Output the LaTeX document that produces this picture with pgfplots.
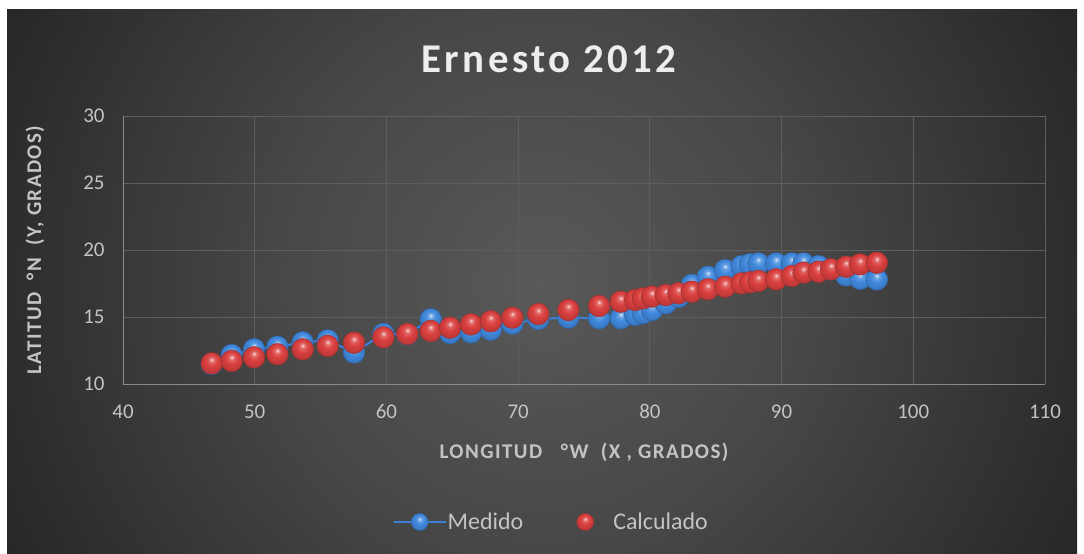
\documentclass[border=0pt]{standalone}
\usepackage{pgfplots}
\pgfplotsset{compat=1.18}
\usepackage{fontspec}
\setmainfont{Carlito}
\newfontfamily\titlefont[LetterSpace=8.5]{Carlito}
\newfontfamily\labfont[LetterSpace=7]{Carlito}
\definecolor{gridc}{HTML}{5E5E5E}
\definecolor{axc}{HTML}{8A8A8A}
\definecolor{txt}{HTML}{C4C4C4}
\definecolor{bluem}{HTML}{3A80D8}
\definecolor{bluel}{HTML}{4189DD}
\definecolor{redm}{HTML}{D9403F}
\definecolor{bg0}{HTML}{595959}
\definecolor{bg1}{HTML}{474747}
\definecolor{bg2}{HTML}{2D2D2D}
\definecolor{bg3}{HTML}{262626}
\pgfdeclareradialshading{bgshade}{\pgfpoint{0bp}{0bp}}{%
  color(0bp)=(bg0);
  color(11bp)=(bg1);
  color(22bp)=(bg2);
  color(25bp)=(bg3);
  color(50bp)=(bg3)}
\makeatletter
\pgfdeclareradialshading[tikz@ball]{ball}{\pgfqpoint{0bp}{9bp}}{%
  color(0bp)=(tikz@ball!20!white);
  color(6bp)=(tikz@ball!80!white);
  color(14bp)=(tikz@ball);
  color(26bp)=(tikz@ball!88!black);
  color(34bp)=(tikz@ball!70!black);
  color(50bp)=(tikz@ball!70!black)}
\makeatother
\pgfplotstableread{
x y
46.73 11.50
48.25 12.16
49.95 12.59
51.72 12.78
53.64 13.11
55.54 13.26
57.54 12.35
59.77 13.73
61.59 13.70
63.36 14.83
64.83 13.80
66.42 13.85
67.92 14.05
69.56 14.50
71.53 14.85
73.81 14.95
76.14 14.90
77.79 14.90
78.88 15.15
79.46 15.28
80.15 15.52
81.21 16.02
82.17 16.50
83.18 17.40
84.40 18.00
85.71 18.50
86.97 18.80
87.60 18.93
88.24 19.00
89.59 19.00
90.78 19.00
91.66 19.00
92.80 18.80
93.76 18.55
94.90 18.10
95.96 17.85
97.23 17.80
}\medido
\pgfplotstableread{
x y
46.73 11.54
48.25 11.72
49.95 11.99
51.72 12.22
53.64 12.59
55.54 12.84
57.54 13.08
59.77 13.48
61.59 13.73
63.36 13.96
64.83 14.20
66.42 14.45
67.92 14.68
69.56 14.95
71.53 15.22
73.81 15.52
76.14 15.82
77.79 16.14
78.88 16.27
79.46 16.39
80.15 16.52
81.21 16.64
82.17 16.77
83.18 16.89
84.40 17.07
85.71 17.26
86.97 17.51
87.60 17.59
88.24 17.69
89.59 17.81
90.78 18.06
91.66 18.31
92.80 18.38
93.76 18.56
94.90 18.75
95.96 18.93
97.23 19.05
}\calculado
\begin{document}
\begin{tikzpicture}[x=1bp,y=1bp]
\fill[white] (0,0) rectangle (1084,554);
\begin{scope}
\clip (7,0) rectangle (1077,544);
\shade[shading=bgshade] (542,272) circle (610);
\end{scope}
\begin{axis}[
  at={(123bp,170bp)}, anchor=south west,
  width=922bp, height=268bp, scale only axis,
  xmin=40, xmax=110, ymin=10, ymax=30,
  xtick={40,50,...,110}, ytick={10,15,...,30},
  axis lines=left, axis line style={draw=axc, line width=0.9pt, -},
  grid=major, grid style={draw=gridc, line width=0.9pt},
  major tick length=0pt,
  /pgf/number format/assume math mode=true,
  tick label style={font=\fontsize{21}{21}\selectfont, text=txt},
  xticklabel style={yshift=-17bp},
  yticklabel style={xshift=-15bp},
  xlabel={\labfont\bfseries LONGITUD \ \ °W \ (X , GRADOS)},
  ylabel={\labfont\bfseries LATITUD \ °N \ (Y, GRADOS)},
  label style={font=\fontsize{21}{21}\selectfont, text=txt},
  xlabel style={at={(axis description cs:0.5,-0.254)}, anchor=center},
  ylabel style={at={(axis description cs:-0.0954,0.5)}, anchor=center, rotate=0},
  title={\titlefont\bfseries Ernesto 2012},
  title style={font=\fontsize{41}{41}\selectfont, text=white!93!black, at={(axis description cs:0.462,1.19)}, anchor=center},
  legend style={at={(axis description cs:0.465,-0.515)}, anchor=center, draw=none, fill=none,
    font=\fontsize{24}{24}\selectfont, text=txt, legend columns=2,
    /tikz/every even column/.append style={column sep=34bp}},
  legend image code/.code={\pgfpathrectangle{\pgfpoint{0bp}{-7bp}}{\pgfpoint{52bp}{14bp}}\pgfusepath{use as bounding box}%
    \draw[mark repeat=2,mark phase=2,#1,mark size=8.5bp] plot coordinates {(0bp,0bp)(26bp,0bp)(52bp,0bp)};},
]
\addplot[color=bluem, line width=2pt, mark=ball, mark size=10.8bp,
  mark options={ball color=bluel, draw=bluem!80!black, line width=0.5pt}] table[x=x,y=y]{\medido};
\addlegendentry{Medido}
\addplot[only marks, mark=ball, mark size=10.8bp,
  mark options={ball color=redm, draw=redm!75!black, line width=0.5pt}] table[x=x,y=y]{\calculado};
\addlegendentry{Calculado}
\end{axis}
\end{tikzpicture}
\end{document}
